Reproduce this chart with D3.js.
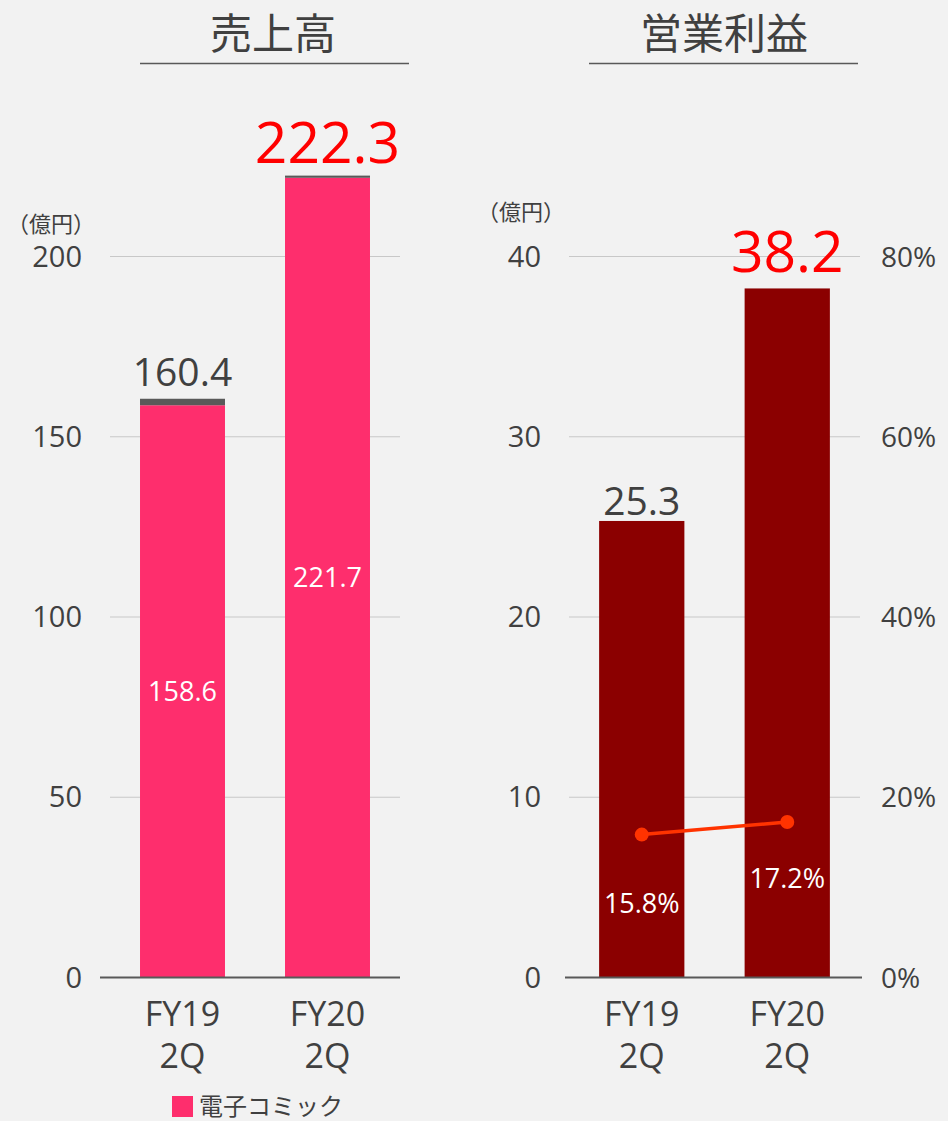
<!DOCTYPE html>
<html>
<head>
<meta charset="utf-8">
<script src="https://cdn.jsdelivr.net/npm/d3@7"></script>
<style>
  body { margin: 0; background: #f2f2f2; }
  svg { display: block; font-family: "Open Sans", "Noto Sans CJK JP", sans-serif; }
  .jp { font-family: "Noto Sans CJK JP", sans-serif; }
</style>
</head>
<body>
<svg></svg>
<script>
// Data
const categories = ["FY19\n2Q", "FY20\n2Q"];
const comicSales = [158.6, 221.7];
const otherSales = [1.8, 0.6];
const totalSales = [160.4, 222.3];
const opProfit = [25.3, 38.2];
const opMargin = [15.8, 17.2];
const salesTicks = [0, 50, 100, 150, 200];
const profitTicks = [0, 10, 20, 30, 40];
const marginTicks = [0, 20, 40, 60, 80];

const width = 948, height = 1121;
const svg = d3.select("svg").attr("width", width).attr("height", height);

const y0 = 977, yTop = 256;
const textColor = "#404040";

// ---------- Left panel: 売上高 ----------
const xL = d3.scaleBand().domain(categories).range([110, 400]).paddingInner(0.414).paddingOuter(0.207);
const yL = d3.scaleLinear().domain([0, 200]).range([y0, yTop]);

svg.append("text").attr("class", "jp").attr("x", 273).attr("y", 49).attr("text-anchor", "middle")
  .attr("font-size", 42).attr("fill", textColor).text("売上高");
svg.append("line").attr("x1", 140).attr("x2", 409).attr("y1", 63.5).attr("y2", 63.5)
  .attr("stroke", "#595959").attr("stroke-width", 1.3);

svg.append("g").selectAll("line").data(salesTicks.filter(d => d > 0)).enter().append("line")
  .attr("x1", 110).attr("x2", 400)
  .attr("y1", d => yL(d) + 0.5).attr("y2", d => yL(d) + 0.5)
  .attr("stroke", "#c8c8c8").attr("stroke-width", 1.2);

svg.append("g").selectAll("text").data(salesTicks).enter().append("text")
  .attr("x", 82).attr("y", d => yL(d) + 10.5).attr("text-anchor", "end")
  .attr("font-size", 29).attr("fill", textColor).text(d => d);
svg.append("text").attr("class", "jp").attr("x", 51).attr("y", 232).attr("text-anchor", "middle")
  .attr("font-size", 22).attr("fill", textColor).text("（億円）");

const barsL = svg.append("g");
barsL.selectAll(".comic").data(categories).enter().append("rect")
  .attr("x", d => xL(d)).attr("width", xL.bandwidth())
  .attr("y", (d, i) => yL(comicSales[i]))
  .attr("height", (d, i) => y0 - yL(comicSales[i]))
  .attr("fill", "#fe2e6d");
barsL.selectAll(".other").data(categories).enter().append("rect")
  .attr("x", d => xL(d)).attr("width", xL.bandwidth())
  .attr("y", (d, i) => yL(totalSales[i]))
  .attr("height", (d, i) => yL(comicSales[i]) - yL(totalSales[i]))
  .attr("fill", "#595959");

barsL.selectAll(".inner").data(categories).enter().append("text")
  .attr("x", d => xL(d) + xL.bandwidth() / 2)
  .attr("y", (d, i) => (y0 + yL(comicSales[i])) / 2 + 10)
  .attr("text-anchor", "middle").attr("font-size", 27).attr("fill", "#fff")
  .text((d, i) => comicSales[i].toFixed(1));

barsL.selectAll(".total").data(categories).enter().append("text")
  .attr("x", d => xL(d) + xL.bandwidth() / 2)
  .attr("y", (d, i) => yL(totalSales[i]) - 13)
  .attr("text-anchor", "middle")
  .attr("font-size", (d, i) => i === 1 ? 57 : 39)
  .attr("fill", (d, i) => i === 1 ? "#ff0000" : textColor)
  .text((d, i) => totalSales[i].toFixed(1));

svg.append("line").attr("x1", 100).attr("x2", 400).attr("y1", y0 + 0.5).attr("y2", y0 + 0.5)
  .attr("stroke", "#595959").attr("stroke-width", 2);

// ---------- Right panel: 営業利益 ----------
const xR = d3.scaleBand().domain(categories).range([569, 860]).paddingInner(0.414).paddingOuter(0.207);
const yR = d3.scaleLinear().domain([0, 40]).range([y0, yTop]);
const yP = d3.scaleLinear().domain([0, 80]).range([y0, yTop]);

svg.append("text").attr("class", "jp").attr("x", 724).attr("y", 49).attr("text-anchor", "middle")
  .attr("font-size", 42).attr("fill", textColor).text("営業利益");
svg.append("line").attr("x1", 589).attr("x2", 858).attr("y1", 63.5).attr("y2", 63.5)
  .attr("stroke", "#595959").attr("stroke-width", 1.3);

svg.append("g").selectAll("line").data(profitTicks.filter(d => d > 0)).enter().append("line")
  .attr("x1", 569).attr("x2", 860)
  .attr("y1", d => yR(d) + 0.5).attr("y2", d => yR(d) + 0.5)
  .attr("stroke", "#c8c8c8").attr("stroke-width", 1.2);

svg.append("g").selectAll("text").data(profitTicks).enter().append("text")
  .attr("x", 541).attr("y", d => yR(d) + 10.5).attr("text-anchor", "end")
  .attr("font-size", 29).attr("fill", textColor).text(d => d);
svg.append("g").selectAll("text").data(marginTicks).enter().append("text")
  .attr("x", 881).attr("y", d => yP(d) + 10.5).attr("text-anchor", "start")
  .attr("font-size", 28).attr("fill", textColor).text(d => d + "%");
svg.append("text").attr("class", "jp").attr("x", 521).attr("y", 220).attr("text-anchor", "middle")
  .attr("font-size", 22).attr("fill", textColor).text("（億円）");

const barsR = svg.append("g");
barsR.selectAll("rect").data(categories).enter().append("rect")
  .attr("x", d => xR(d)).attr("width", xR.bandwidth())
  .attr("y", (d, i) => yR(opProfit[i]))
  .attr("height", (d, i) => y0 - yR(opProfit[i]))
  .attr("fill", "#8b0000");

barsR.selectAll(".val").data(categories).enter().append("text")
  .attr("x", d => xR(d) + xR.bandwidth() / 2)
  .attr("y", (d, i) => yR(opProfit[i]) - (i === 1 ? 16 : 6))
  .attr("text-anchor", "middle")
  .attr("font-size", (d, i) => i === 1 ? 57 : 39)
  .attr("fill", (d, i) => i === 1 ? "#ff0000" : textColor)
  .text((d, i) => opProfit[i].toFixed(1));

svg.append("line").attr("x1", 565).attr("x2", 862).attr("y1", y0 + 0.5).attr("y2", y0 + 0.5)
  .attr("stroke", "#595959").attr("stroke-width", 2);

const line = d3.line()
  .x((d, i) => xR(categories[i]) + xR.bandwidth() / 2)
  .y(d => yP(d));
svg.append("path").datum(opMargin).attr("d", line)
  .attr("fill", "none").attr("stroke", "#ff3300").attr("stroke-width", 3.5);
svg.append("g").selectAll("circle").data(opMargin).enter().append("circle")
  .attr("cx", (d, i) => xR(categories[i]) + xR.bandwidth() / 2)
  .attr("cy", d => yP(d)).attr("r", 7).attr("fill", "#ff3300");
svg.append("g").selectAll("text").data(opMargin).enter().append("text")
  .attr("x", (d, i) => xR(categories[i]) + xR.bandwidth() / 2)
  .attr("y", (d, i) => yP(d) + (i === 0 ? 78 : 66))
  .attr("text-anchor", "middle").attr("font-size", 27).attr("fill", "#fff")
  .text(d => d.toFixed(1) + "%");

// ---------- Category labels (two lines each) ----------
[xL, xR].forEach(x => {
  const g = svg.append("g");
  categories.forEach(c => {
    c.split("\n").forEach((s, j) => {
      g.append("text").attr("text-anchor", "middle")
        .attr("font-size", 34).attr("fill", textColor)
        .attr("x", x(c) + x.bandwidth() / 2)
        .attr("y", 1026 + j * 42).text(s);
    });
  });
});

// ---------- Legend ----------
svg.append("rect").attr("x", 172).attr("y", 1096).attr("width", 21).attr("height", 21).attr("fill", "#fe2e6d");
svg.append("text").attr("class", "jp").attr("x", 199).attr("y", 1115).attr("font-size", 24).attr("fill", textColor).text("電子コミック");
</script>
</body>
</html>
